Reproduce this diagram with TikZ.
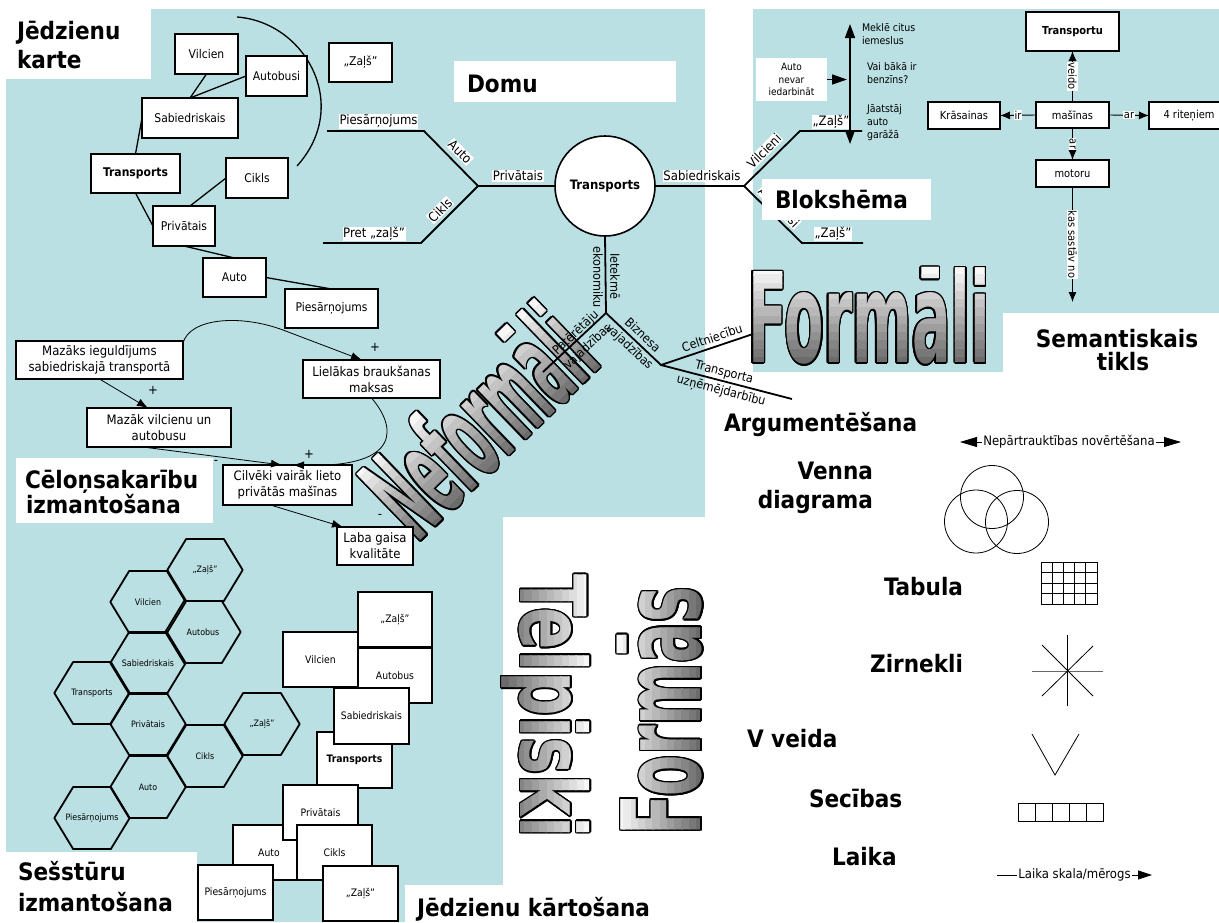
\documentclass[tikz,border=0pt]{standalone}
\usepackage{fontspec}
\usepackage{graphicx}
\setmainfont{DejaVu Sans Condensed}
\usetikzlibrary{arrows.meta,calc}
\definecolor{panel}{RGB}{186,224,227}
\newcommand{\fsz}[2]{\fontsize{#1}{#2}\selectfont}

% outlined word with a light-to-dark grey gradient from letter top to bottom
% #1,#2 centre, #3 angle, #4 width, #5 height, #6 word
\newcommand{\bigword}[6]{%
  \begin{scope}[shift={(#1,#2)},rotate=#3]
    \foreach \ang in {0,22.5,...,337.5}{%
      \node[transform shape,text=black] at (\ang:1.5) {\resizebox*{#4pt}{#5pt}{\bfseries #6}};}
    \foreach \band in {0,...,11}{%
      \pgfmathsetmacro{\ytop}{-(#5)/2-1+\band*((#5)+2)/12}%
      \pgfmathsetmacro{\ybot}{\ytop+((#5)+2)/12+0.4}%
      \pgfmathtruncatemacro{\greylevel}{3+5*\band}%
      \begin{scope}
        \clip (-#4/2-8,\ytop) -- (#4/2+8,\ytop) -- (#4/2+8,\ybot) -- (-#4/2-8,\ybot) -- cycle;
        \node[transform shape,text=black!\greylevel] at (0,0) {\resizebox*{#4pt}{#5pt}{\bfseries #6}};
      \end{scope}}
  \end{scope}}

% flat-topped hexagon cell with its label
\newcommand{\hexcell}[4]{%
  \node[hextext] (#1) at (#2,#3) {#4};
  \draw[hexline] (#2-37.7,#3) -- (#2-18.85,#3-31) -- (#2+18.85,#3-31) -- (#2+37.7,#3)
     -- (#2+18.85,#3+31) -- (#2-18.85,#3+31) -- cycle;}

\tikzset{
  every node/.style={inner sep=0pt, outer sep=0pt},
  headline/.style={font=\fsz{24}{28}\bfseries, anchor=base west},
  cbox/.style={draw, line width=1.4pt, fill=white, font=\fsz{12}{14}},
  cmline/.style={line width=1.3pt},
  fbline/.style={line width=1.8pt},
  fblabel/.style={fill=white, inner sep=0.7pt, font=\fsz{13}{15}},
  fbnote/.style={font=\fsz{12.5}{14}},
  fcarrow/.style={line width=1.6pt},
  fctext/.style={anchor=north west, align=left, font=\fsz{10.5}{13}},
  semb/.style={draw, line width=1.2pt, fill=white, font=\fsz{11}{13}},
  semline/.style={line width=0.9pt, -{Latex[length=10pt,width=8pt]}},
  semlab/.style={fill=white, inner sep=0.8pt, font=\fsz{11}{13}},
  causebox/.style={draw, line width=1.3pt, fill=white, align=center, font=\fsz{13}{16}},
  causearrow/.style={line width=0.8pt, -{Latex[length=11pt,width=8pt]}},
  signlabel/.style={font=\fsz{13}{15}},
  hexline/.style={line width=1.8pt, line join=round},
  hextext/.style={font=\fsz{8.8}{10}},
  sortbox/.style={draw, line width=1.6pt, fill=white, minimum width=75pt, minimum height=55pt, font=\fsz{10.3}{12}},
  thinline/.style={line width=0.8pt},
}

\begin{document}
\begin{tikzpicture}[x=1pt,y=-1pt]
\useasboundingbox (0,0) rectangle (1219,922);
\fill[white] (0,0) rectangle (1219,922);

% background panels
\fill[panel] (6,9) rectangle (705,517);
\fill[panel] (6,517) rectangle (503,922);
\fill[panel] (753,9) rectangle (1219,372);

% large outlined words
\bigword{478}{420}{44}{258}{98}{Neformāli}
\bigword{869}{316}{0}{242}{97}{Formāli}
\bigword{546}{706}{-90}{263}{88}{Telpiski}
\bigword{660}{711}{90}{248}{85}{Formās}

% ---------- concept map ----------
\coordinate (cmArcA) at (237,17);
\coordinate (cmArcB) at (297,166);
\draw[cmline] (cmArcA) .. controls (305,22) and (352,105) .. (cmArcB);
\node[cbox, minimum width=63pt, minimum height=40pt] (cmVil) at (206.5,54) {Vilcien};
\node[cbox, minimum width=61pt, minimum height=40pt] (cmAut) at (276.5,76) {Autobusi};
\node[cbox, minimum width=63pt, minimum height=39pt] (cmZal) at (360.5,62.5) {„Zaļš”};
\node[cbox, minimum width=96pt, minimum height=40pt] (cmSab) at (190,118) {Sabiedriskais};
\node[cbox, minimum width=89pt, minimum height=39pt, font=\fsz{12}{14}\bfseries] (cmTra) at (135.5,173.5) {Transports};
\node[cbox, minimum width=62pt, minimum height=40pt] (cmCik) at (257,178) {Cikls};
\node[cbox, minimum width=62pt, minimum height=40pt] (cmPri) at (184,226) {Privātais};
\node[cbox, minimum width=63pt, minimum height=39pt] (cmAuto) at (234.5,277.5) {Auto};
\node[cbox, minimum width=93pt, minimum height=39pt] (cmPie) at (331.5,308.5) {Piesārņojums};
\draw[cmline] (cmVil.south) -- (cmSab.north);
\draw[cmline] (cmAut.west) -- (cmSab.north);
\draw[cmline] (cmSab.west) -- (cmTra.north);
\draw[cmline] (cmTra.south) -- (cmPri.west);
\draw[cmline] ($(cmPri.north)+(6,0)$) -- (cmCik.west);
\draw[cmline] (cmPri.south) -- (cmAuto.north);
\draw[cmline] (cmAuto.east) -- (cmPie.north);

% ---------- fishbone ----------
\node[draw, circle, line width=1.6pt, fill=white, minimum size=100pt, font=\fsz{13}{15}\bfseries] (fbC) at (605,186) {Transports};
\coordinate (fbL) at (478,186);
\coordinate (fbLU) at (424,131);
\coordinate (fbLUe) at (327,131);
\coordinate (fbLD) at (421,243);
\coordinate (fbLDe) at (323,243);
\coordinate (fbR) at (744,186);
\coordinate (fbRU) at (800,131);
\coordinate (fbRUe) at (862,131);
\coordinate (fbRD) at (802,243);
\coordinate (fbRDe) at (863,243);
\coordinate (fbD) at (606,313);
\coordinate (fbDL) at (543,372);
\coordinate (fbDR) at (661,365);
\coordinate (fbCel) at (753,334);
\coordinate (fbTra) at (792,399);
\draw[fbline] (fbC.west) -- (fbL);
\draw[fbline] (fbLUe) -- (fbLU) -- (fbL) -- (fbLD) -- (fbLDe);
\draw[fbline] (fbC.east) -- (fbR);
\draw[fbline] (fbRUe) -- (fbRU) -- (fbR) -- (fbRD) -- (fbRDe);
\draw[fbline] (fbC.south) -- (fbD);
\draw[fbline] (fbD) -- (fbDL);
\draw[fbline] (fbD) -- (fbDR) -- (fbCel);
\draw[fbline] (fbDR) -- (fbTra);
\node[fblabel] (fbPriv) at (518,176) {Privātais};
\node[fblabel] (fbPies) at (378.5,121.5) {Piesārņojums};
\node[fblabel] (fbPret) at (374,234) {Pret „zaļš”};
\node[fblabel, rotate=-45] (fbAuto) at (460,152) {Auto};
\node[fblabel, rotate=45] (fbCikls) at (440,210) {Cikls};
\node[fblabel] (fbSab) at (702,176) {Sabiedriskais};
\node[fblabel, rotate=45] (fbVil) at (764,151) {Vilcieni};
\node[fblabel] (fbZalA) at (831,122) {„Zaļš”};
\node[fblabel] (fbZalB) at (833,234) {„Zaļš”};
\node[fblabel, rotate=-45] (fbAutob) at (779,207) {Autobusi};
\node[fbnote, rotate=-90] (fbIet) at (615,276) {Ietekmē};
\node[fbnote, rotate=-90] (fbEko) at (598,277) {ekonomiku};
\node[fbnote, rotate=43] (fbPat) at (576,333) {Patērētāju};
\node[fbnote, rotate=43] (fbVajA) at (588,347) {vajadzības};
\node[fbnote, rotate=-43] (fbBiz) at (643,335) {Biznesa};
\node[fbnote, rotate=-43] (fbVajB) at (629,347) {vajadzības};
\node[fbnote, rotate=18.6] (fbCelt) at (712,338) {Celtniecību};
\node[fbnote, rotate=-14.5] (fbTrans) at (724,373) {Transporta};
\node[fbnote, rotate=-14.5] (fbUzn) at (721,391) {uzņēmējdarbību};

% ---------- flow chart ----------
\node[fill=white, minimum width=71pt, minimum height=43pt, align=center, font=\fsz{10}{12.5}] (fcStart) at (791.5,79.5) {Auto\\nevar\\iedarbināt};
\coordinate (fcUp) at (850,24);
\coordinate (fcDown) at (850,144);
\coordinate (fcIn) at (847,79.5);
\draw[fcarrow, {Triangle[length=14pt,width=10pt]}-{Triangle[length=14pt,width=10pt]}] (fcDown) -- (fcUp);
\draw[fcarrow, -{Triangle[length=15pt,width=10pt]}] (fcStart.east) -- (fcIn);
\node[fctext] (fcA) at (862,24) {Meklē citus\\iemeslus};
\node[fctext] (fcB) at (867,63) {Vai bākā ir\\benzīns?};
\node[fctext] (fcC) at (867,105) {Jāatstāj\\auto\\garāžā};

% ---------- semantic network ----------
\node[semb, font=\fsz{11}{13}\bfseries, minimum width=93pt, minimum height=39pt] (snT) at (1072.5,31.5) {Transportu};
\node[semb, minimum width=73pt, minimum height=26pt] (snM) at (1072.5,115) {mašīnas};
\node[semb, minimum width=72pt, minimum height=27pt] (snK) at (964,115.5) {Krāsainas};
\node[semb, minimum width=80pt, minimum height=27pt] (snR) at (1189,115.5) {4 riteņiem};
\node[semb, minimum width=73pt, minimum height=27pt] (snMo) at (1072.5,173.5) {motoru};
\coordinate (snEnd) at (1072.5,302);
\draw[semline] (snM.north) -- (snT.south) node[midway, semlab, rotate=-90] (snL1) {veido};
\draw[semline] (snM.west) -- (snK.east) node[midway, semlab] (snL2) {ir};
\draw[semline] (snM.east) -- (snR.west) node[midway, semlab] (snL3) {ar};
\draw[semline] (snM.south) -- (snMo.north) node[midway, semlab, rotate=-90] (snL4) {ar};
\draw[semline] (snMo.south) -- (snEnd) node[midway, semlab, rotate=-90] (snL5) {kas sastāv no};

% ---------- cause and effect ----------
\node[causebox, minimum width=167pt, minimum height=38pt] (clMaz) at (99.5,360) {Mazāks ieguldījums\\sabiedriskajā transportā};
\node[causebox, minimum width=137pt, minimum height=38pt] (clLie) at (371.5,379) {Lielākas braukšanas\\maksas};
\node[causebox, minimum width=144pt, minimum height=39pt] (clMzv) at (159,427.5) {Mazāk vilcienu un\\autobusu};
\node[causebox, minimum width=129pt, minimum height=40pt] (clCil) at (287.5,485) {Cilvēki vairāk lieto\\privātās mašīnas};
\node[causebox, minimum width=76pt, minimum height=38pt] (clLab) at (375,546) {Laba gaisa\\kvalitāte};
\draw[causearrow] ($(clMaz.north east)+(0,2)$) .. controls (190,318) and (240,314) .. (283,330) -- ($(clLie.north west)+(59,0)$);
\draw[causearrow] (clMaz.south) -- ($(clMzv.north)+(-11,0)$);
\draw[causearrow] ($(clMzv.south)+(-16,0)$) -- ($(clCil.north)+(-5.5,0)$);
\draw[causearrow] (clLie.south) .. controls (395,425) and (405,468) .. ($(clCil.north)+(5.5,0)$);
\draw[causearrow] ($(clCil.south)+(-17,0)$) -- ($(clLab.north west)+(6,0)$);
\node[signlabel] (sgA) at (375,347) {+};
\node[signlabel] (sgB) at (153,390) {+};
\node[signlabel] (sgC) at (309,454) {+};
\node[signlabel] (sgD) at (216,462) {-};
\node[signlabel] (sgE) at (380,516) {-};

% ---------- hexagons ----------
\hexcell{hxZalA}{205}{570}{„Zaļš”}
\hexcell{hxVil}{148}{602}{Vilcien}
\hexcell{hxAut}{203}{632}{Autobus}
\hexcell{hxSab}{148}{663}{Sabiedriskais}
\hexcell{hxTra}{92}{693}{Transports}
\hexcell{hxPri}{148}{724}{Privātais}
\hexcell{hxZalB}{262}{724}{„Zaļš”}
\hexcell{hxCik}{205}{756}{Cikls}
\hexcell{hxAuto}{148}{787}{Auto}
\hexcell{hxPie}{92}{818}{Piesārņojums}

% ---------- concept sorting ----------
\node[sortbox, minimum width=74pt] (soZalA) at (395,619.5) {„Zaļš”};
\node[sortbox] (soVil) at (320.5,659.5) {Vilcien};
\node[sortbox, minimum width=74pt] (soAut) at (395,675.5) {Autobus};
\node[sortbox, minimum height=56pt, font=\fsz{10.3}{12}\bfseries] (soTra) at (354.5,760) {Transports};
\node[sortbox, minimum height=56pt] (soSab) at (371.5,716) {Sabiedriskais};
\node[sortbox, minimum width=72pt] (soAuto) at (269,852.5) {Auto};
\node[sortbox] (soPri) at (320.5,812.5) {Privātais};
\node[sortbox] (soCik) at (334.5,852.5) {Cikls};
\node[sortbox] (soPie) at (235.5,892.5) {Piesārņojums};
\node[sortbox] (soZalB) at (360.5,893.5) {„Zaļš”};

% ---------- graphic organisers ----------
\node[headline] (tArg) at (724,431) {Argumentēšana};
\coordinate (npL) at (960,442);
\coordinate (npR) at (1181,442);
\draw[thinline, {Triangle[length=17pt,width=10pt]}-{Triangle[length=17pt,width=10pt]}] (npL) -- (npR);
\node[fill=white, inner sep=1pt, font=\fsz{13}{15}] (npText) at (1069,442) {Nepārtrauktības novērtēšana};

\node[headline, anchor=base east] (tVenA) at (873,479) {Venna};
\node[headline, anchor=base east] (tVenB) at (873,508) {diagrama};
\node[draw, circle, thinline, minimum size=63pt] (vcA) at (992,497) {};
\node[draw, circle, thinline, minimum size=63pt] (vcB) at (976,521.5) {};
\node[draw, circle, thinline, minimum size=63pt] (vcC) at (1017,522) {};

\node[headline, anchor=base east] (tTab) at (963,595) {Tabula};
\node[draw, thinline, minimum width=56pt, minimum height=42pt] (grd) at (1069,583) {};
\foreach \col in {1,...,4} \draw[thinline] ($(grd.north west)+(\col*11.2,0)$) -- ($(grd.south west)+(\col*11.2,0)$);
\foreach \row in {1,2,3} \draw[thinline] ($(grd.north west)+(0,\row*10.5)$) -- ($(grd.north east)+(0,\row*10.5)$);

\node[headline, anchor=base east] (tZir) at (963,672) {Zirnekli};
\coordinate (spC) at (1067,671);
\draw[thinline] ($(spC)+(0,-36)$) -- ($(spC)+(0,35)$);
\draw[thinline, black!60] ($(spC)+(-35,0)$) -- ($(spC)+(36,0)$);
\draw[thinline] ($(spC)+(-25,-26)$) -- ($(spC)+(26,25)$);
\draw[thinline] ($(spC)+(26,-25)$) -- ($(spC)+(-25,25)$);

\node[headline] (tVv) at (747,747) {V veida};
\coordinate (vA) at (1032,734);
\coordinate (vB) at (1055,775);
\coordinate (vC) at (1079,734);
\draw[thinline] (vA) -- (vB) -- (vC);

\node[headline] (tSec) at (809,807) {Secības};
\foreach \sq in {0,...,4} \draw[thinline] (1018+\sq*17,803) rectangle ++(17,18);

\node[headline] (tLaika) at (832,865) {Laika};
\coordinate (lsL) at (997,875);
\coordinate (lsR) at (1152,875);
\draw[thinline, -{Triangle[length=14pt,width=9pt]}] (lsL) -- (lsR);
\node[fill=white, inner sep=1pt, font=\fsz{13}{15}] (lsText) at (1074.5,875) {Laika skala/mērogs};

% ---------- section titles ----------
\fill[white] (0,0) rectangle (151,79);
\node[headline] (tJkA) at (17,39) {Jēdzienu};
\node[headline] (tJkB) at (17,68) {karte};
\fill[white] (454,61) rectangle (676,102);
\node[headline] (tDomu) at (467,92) {Domu};
\fill[white] (762,179) rectangle (931,220);
\node[headline] (tBlok) at (775,208) {Blokshēma};
\fill[white] (16,458) rectangle (213,523);
\node[headline] (tCelA) at (25,488) {Cēloņsakarību};
\node[headline] (tCelB) at (26,513) {izmantošana};
\fill[white] (1003,313) rectangle (1219,372);
\node[headline, anchor=base] (tSemA) at (1117,347) {Semantiskais};
\node[headline, anchor=base] (tSemB) at (1123,370) {tikls};
\fill[white] (0,852) rectangle (197,922);
\node[headline] (tSesA) at (18,880) {Sešstūru};
\node[headline] (tSesB) at (18,911) {izmantošana};
\fill[white] (405,885) rectangle (655,922);
\node[headline] (tKart) at (417,916) {Jēdzienu kārtošana};
\end{tikzpicture}
\end{document}
